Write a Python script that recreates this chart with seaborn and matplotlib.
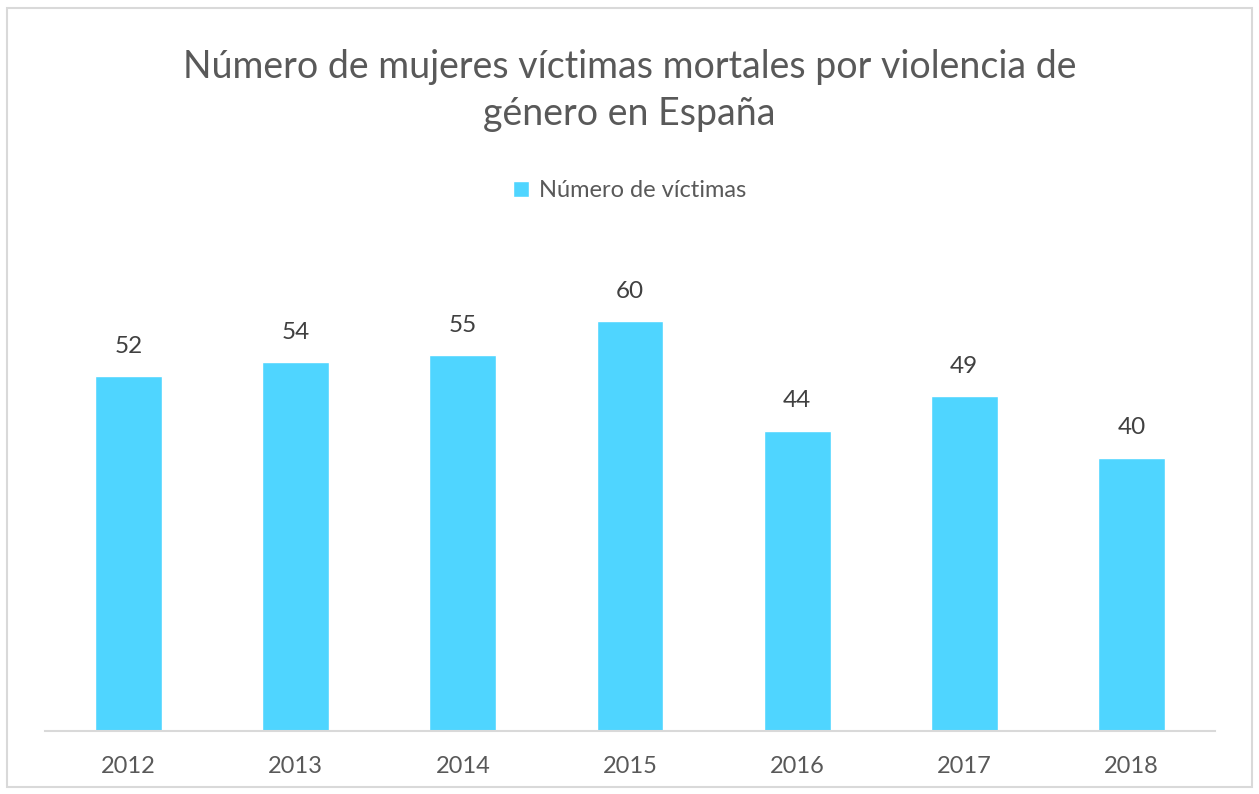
import seaborn as sns
import matplotlib.pyplot as plt
import pandas as pd
from matplotlib.patches import Rectangle

years = ['2012', '2013', '2014', '2015', '2016', '2017', '2018']
victimas = [52, 54, 55, 60, 44, 49, 40]

df = pd.DataFrame({'year': years, 'victimas': victimas})

sns.set_style('white')
plt.rcParams['font.family'] = ['Lato', 'DejaVu Sans']

bar_color = '#4FD5FF'
text_color = '#595959'

fig = plt.figure(figsize=(12.59, 7.94), dpi=100)
ax = fig.add_axes([0.0357, 0.0793, 0.9293, 0.602])

sns.barplot(data=df, x='year', y='victimas', color=bar_color, width=0.4,
            saturation=1, ax=ax, label='Número de víctimas')

ax.set_xlim(-0.5, 6.5)
ax.set_ylim(0, 70)
ax.set_xlabel('')
ax.set_ylabel('')
ax.set_yticks([])
sns.despine(ax=ax, left=True)
ax.spines['bottom'].set_color('#D9D9D9')
ax.spines['bottom'].set_linewidth(1.5)
ax.tick_params(axis='x', length=0, pad=18, labelsize=17, labelcolor=text_color)

for i, v in enumerate(victimas):
    ax.annotate(str(v), (i, v), xytext=(0, 14), textcoords='offset points',
                ha='center', va='bottom', fontsize=17.5, color='#404040')

leg = ax.legend(loc='center', bbox_to_anchor=(0.5, 0.76), bbox_transform=fig.transFigure,
                frameon=False, fontsize=17, handlelength=0.7, handleheight=0.7,
                handletextpad=0.4)
for t in leg.get_texts():
    t.set_color(text_color)

fig.text(0.5, 0.8855, 'Número de mujeres víctimas mortales por violencia de\ngénero en España',
         ha='center', va='center', fontsize=27, color=text_color, linespacing=1.38)

fig.patches.append(Rectangle((0.0056, 0.009), 0.9889, 0.981, transform=fig.transFigure,
                             fill=False, edgecolor='#D9D9D9', linewidth=1.5))

fig.savefig('out.png', dpi=100)
